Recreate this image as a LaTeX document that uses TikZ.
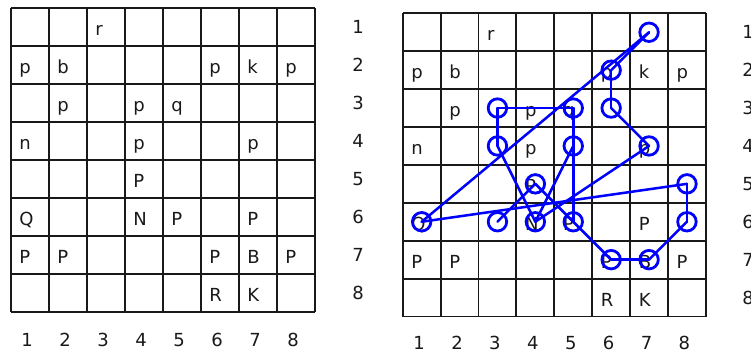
\documentclass[tikz,border=0pt]{standalone}
\usepackage{fontspec}
\setmainfont{DejaVu Sans}
\begin{document}
\begin{tikzpicture}[x=1pt,y=-1pt,
  gridline/.style={draw=black!90,line width=1.9pt},
  piece/.style={anchor=base west,inner sep=0pt,font=\fontsize{18}{20}\selectfont,text=black!90},
  lbl/.style={anchor=center,inner sep=0pt,font=\fontsize{18}{20}\selectfont,text=black!90},
  ring/.style={circle,draw=blue,line width=2.8pt,minimum size=18.5pt,inner sep=0pt},
  link/.style={draw=blue,line width=2.5pt,line cap=round}]
\useasboundingbox (0,0) rectangle (751,356);
% ---------- left board ----------
\foreach \i in {0,...,8}{
  \draw[gridline] (10.7+38*\i,8.3) -- (10.7+38*\i,312.3);
  \draw[gridline] (10.7,8.3+38*\i) -- (314.7,8.3+38*\i);
}
% ---------- right board ----------
\foreach \i in {0,...,8}{
  \draw[gridline] (402.7+37.9*\i,13.3) -- (402.7+37.9*\i,316.5);
  \draw[gridline] (402.7,13.3+37.9*\i) -- (705.9,13.3+37.9*\i);
}
% pieces
\foreach \c/\r/\t in {3/1/r,1/2/p,2/2/b,6/2/p,7/2/k,8/2/p,2/3/p,4/3/p,5/3/q,1/4/n,4/4/p,7/4/p,4/5/P,1/6/Q,4/6/N,5/6/P,7/6/P,1/7/P,2/7/P,6/7/P,7/7/B,8/7/P,6/8/R,7/8/K}{
  \node[piece] (L\c\r) at (10.7+38*\c-38+8.5, 8.3+38*\r-10.4) {\t};
  \node[piece] (R\c\r) at (402.7+37.9*\c-37.9+8.5, 13.3+37.9*\r-10.4) {\t};
}
% labels
\foreach \k in {1,...,8}{
  \node[lbl] (lr\k) at (358, 8.3+38*\k-19) {\k};
  \node[lbl] (lc\k) at (10.7+38*\k-19-2.5, 340) {\k};
  \node[lbl] (rr\k) at (748, 13.3+37.9*\k-18.95) {\k};
  \node[lbl] (rc\k) at (402.7+37.9*\k-18.95-2.5, 343) {\k};
}
% rings
\foreach \c/\r in {7/1,6/2,6/3,7/4,3/3,5/3,3/4,5/4,4/5,8/5,1/6,3/6,4/6,5/6,8/6,6/7,7/7}{
  \node[ring] (c\c\r) at (402.7+37.9*\c-18.95, 13.3+37.9*\r-18.95) {};
}
% links
\foreach \a/\b in {16/71,71/62,62/63,63/74,74/46,33/53,33/34,53/54,54/56,34/46,54/46,36/45,45/56,16/85,85/86,86/77,77/67,67/56}{
  \draw[link] (c\a.center) -- (c\b.center);
}
\end{tikzpicture}
\end{document}
